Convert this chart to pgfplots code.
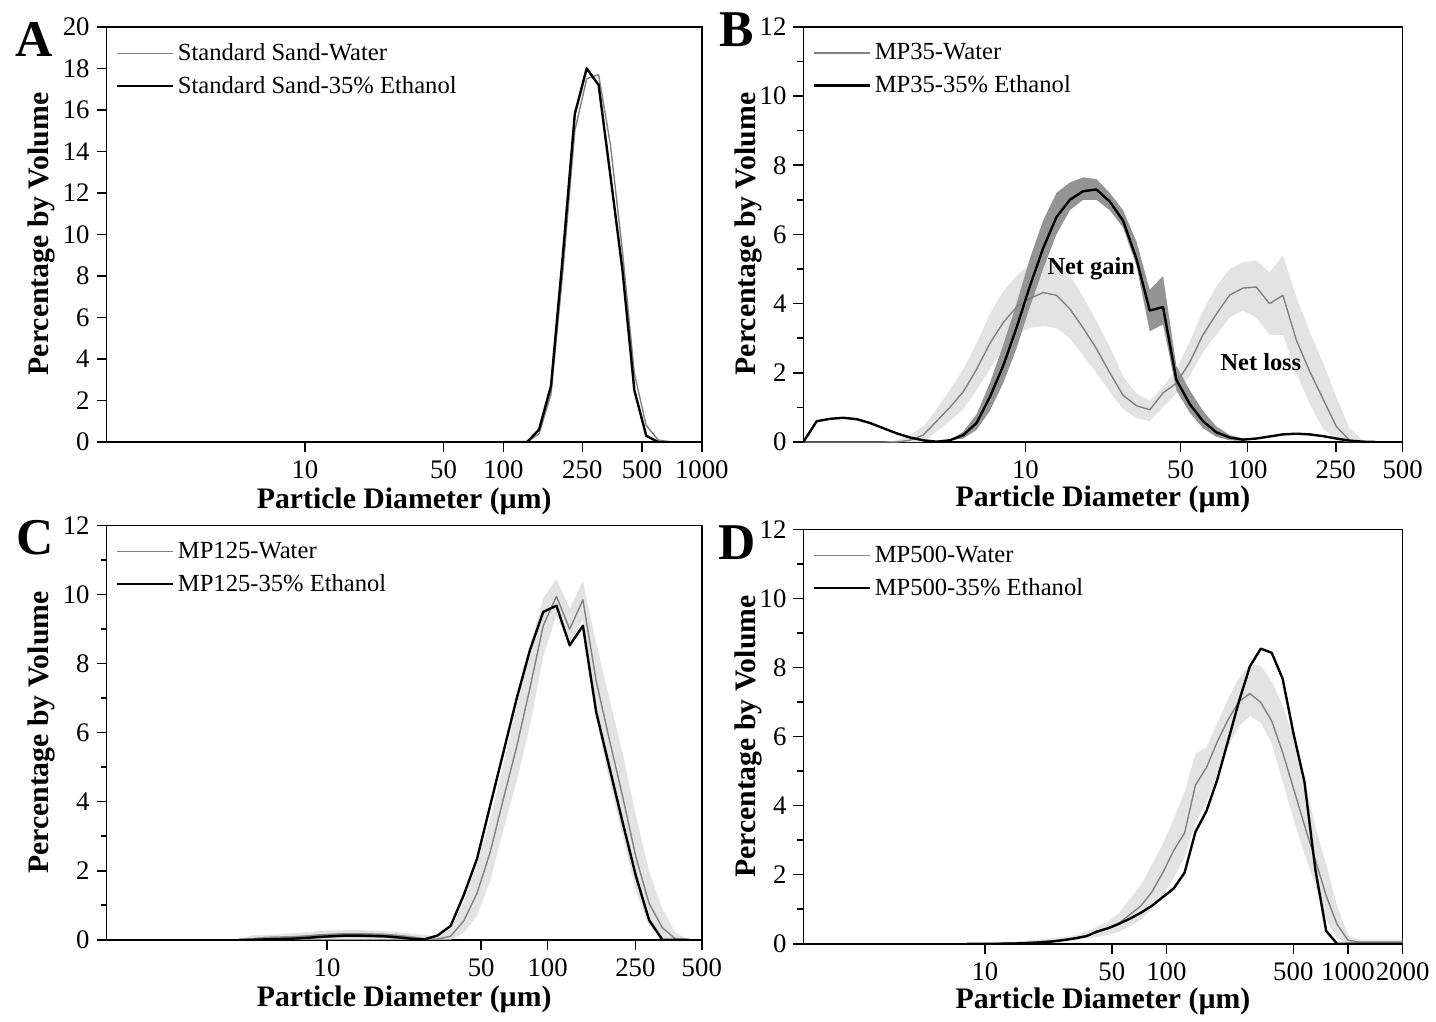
\documentclass[border=0pt]{standalone}
\usepackage{fontspec}
\setmainfont{Liberation Serif}
\usepackage{pgfplots}
\pgfplotsset{compat=1.18}
\usepgfplotslibrary{fillbetween}
\usepackage{pgfplotstable}

\definecolor{lineg}{gray}{0.5}
\definecolor{bandl}{gray}{0.89}
\definecolor{bandd}{gray}{0.58}

\pgfplotstableread{
x g b
100 0 0
114.8 0 0
131.8 0 0
151.4 0.4 0.6
173.8 2.3 2.7
199.5 8.2 9.0
229.1 15.0 15.8
263.0 17.5 18.0
302.0 17.7 17.2
346.7 14.3 12.8
398.1 9.2 8.3
457.1 3.3 2.5
524.8 0.8 0.3
602.6 0.1 0
691.8 0 0
}\tblA

\pgfplotstableread{
x g glo ghi b blo bhi
1.000 0 0 0 0 0 0
1.148 0 0 0 0.6 0.6 0.6
1.318 0 0 0 0.67 0.67 0.67
1.514 0 0 0 0.7 0.7 0.7
1.738 0 0 0 0.66 0.66 0.66
1.995 0 0 0 0.55 0.55 0.55
2.291 0 0 0 0.4 0.4 0.4
2.630 0 0 0.05 0.25 0.25 0.25
3.020 0.05 0 0.2 0.13 0.13 0.13
3.467 0.2 0 0.45 0.05 0.05 0.05
3.981 0.6 0.3 0.95 0.01 0.01 0.01
4.571 1.0 0.6 1.5 0.05 0.05 0.05
5.248 1.45 0.95 2.1 0.2 0.1 0.3
6.026 2.1 1.5 2.85 0.55 0.35 0.8
6.918 2.85 2.1 3.7 1.3 0.9 1.7
7.943 3.45 2.7 4.35 2.2 1.7 2.8
9.120 3.9 3.1 4.8 3.3 2.7 4.0
10.47 4.15 3.3 5.15 4.5 3.9 5.3
12.02 4.32 3.35 5.3 5.6 5.0 6.4
13.80 4.24 3.3 5.2 6.5 6.0 7.2
15.85 3.85 3.0 4.8 7.0 6.7 7.5
18.20 3.3 2.5 4.2 7.25 7.0 7.65
20.89 2.7 2.0 3.5 7.3 7.0 7.6
23.99 2.0 1.45 2.75 6.95 6.7 7.2
27.54 1.35 0.95 1.9 6.4 6.2 6.7
31.62 1.05 0.7 1.4 5.3 5.1 5.8
36.31 0.93 0.6 1.2 3.8 3.2 4.4
41.69 1.42 1.0 1.6 3.9 3.4 4.8
47.86 1.7 1.4 2.1 1.8 1.5 2.2
54.95 2.3 1.9 2.9 1.1 0.85 1.5
63.10 3.1 2.6 3.8 0.6 0.4 0.9
72.44 3.7 3.1 4.5 0.28 0.15 0.45
83.18 4.25 3.6 5.0 0.13 0.05 0.2
95.50 4.45 3.8 5.2 0.07 0.03 0.1
109.6 4.48 3.6 5.25 0.1 0.1 0.1
125.9 4.0 3.1 4.9 0.16 0.16 0.16
144.5 4.24 3.1 5.4 0.22 0.22 0.22
166.0 2.95 2.0 4.2 0.24 0.24 0.24
190.5 2.05 1.1 3.2 0.22 0.22 0.22
218.8 1.25 0.4 2.3 0.17 0.17 0.17
251.2 0.45 0.05 1.3 0.1 0.1 0.1
288.4 0.05 0 0.4 0.04 0.04 0.04
331.1 0 0 0.05 0.01 0.01 0.01
380.2 0 0 0 0 0 0
}\tblB

\pgfplotstableread{
x g glo ghi b blo bhi
3.981 0 0 0.02 0 0 0
4.571 0.01 0 0.13 0 0 0.05
5.248 0.02 0 0.14 0.01 0 0.09
6.026 0.04 0 0.16 0.02 0 0.1
6.918 0.07 0 0.19 0.03 0 0.11
7.943 0.1 0 0.22 0.05 0.01 0.13
9.120 0.13 0 0.25 0.08 0.04 0.16
10.47 0.15 0 0.27 0.1 0.06 0.18
12.02 0.16 0 0.28 0.12 0.08 0.2
13.80 0.16 0 0.28 0.12 0.08 0.2
15.85 0.15 0 0.27 0.11 0.07 0.19
18.20 0.13 0 0.25 0.1 0.06 0.18
20.89 0.1 0 0.22 0.07 0.03 0.15
23.99 0.06 0 0.18 0.03 0 0.11
27.54 0.02 0 0.14 0.01 0 0.05
31.62 0.02 0 0.1 0.12 0.12 0.12
36.31 0.1 0 0.3 0.4 0.4 0.4
41.69 0.55 0.2 1.1 1.3 1.3 1.3
47.86 1.35 0.7 2.2 2.35 2.35 2.35
54.95 2.55 1.7 3.5 3.9 3.9 3.9
63.10 4.1 3.2 5.1 5.45 5.45 5.45
72.44 5.6 4.6 6.8 7.0 7.0 7.0
83.18 7.3 6.2 8.5 8.4 8.4 8.4
95.50 9.1 8.2 9.9 9.5 9.5 9.5
109.6 9.95 9.4 10.45 9.68 9.68 9.68
125.9 9.0 8.5 9.6 8.53 8.53 8.53
144.5 9.85 9.3 10.4 9.1 9.1 9.1
166.0 7.5 6.4 8.6 6.6 6.6 6.6
190.5 5.8 4.6 7.0 5.0 5.0 5.0
218.8 4.15 3.0 5.4 3.4 3.4 3.4
251.2 2.4 1.4 3.6 1.85 1.85 1.85
288.4 1.05 0.4 2.0 0.57 0.57 0.57
331.1 0.35 0.05 0.9 0 0 0
380.2 0.02 0 0.2 0 0 0
436.5 0 0 0 0 0 0
}\tblC

\pgfplotstableread{
x g glo ghi b
7.943 0 0 0 0
9.120 0 0 0.02 0
10.47 0 0 0.03 0
12.02 0.01 0 0.04 0
13.80 0.02 0 0.05 0.005
15.85 0.03 0 0.07 0.01
18.20 0.05 0.01 0.1 0.02
20.89 0.07 0.02 0.13 0.04
23.99 0.09 0.03 0.17 0.07
27.54 0.11 0.05 0.2 0.11
31.62 0.16 0.1 0.25 0.16
36.31 0.24 0.15 0.35 0.22
41.69 0.33 0.2 0.5 0.36
47.86 0.45 0.25 0.65 0.45
54.95 0.6 0.35 0.9 0.58
63.10 0.85 0.5 1.3 0.73
72.44 1.1 0.7 1.7 0.9
83.18 1.5 1.0 2.3 1.1
95.50 2.06 1.4 2.9 1.35
109.6 2.7 1.9 3.6 1.6
125.9 3.21 2.5 4.4 2.06
144.5 4.6 3.5 5.5 3.24
166.0 5.1 4.1 5.7 3.84
190.5 5.85 4.9 6.4 4.75
218.8 6.5 5.7 7.1 5.89
251.2 7.02 6.3 7.7 7.03
288.4 7.25 6.6 8.1 8.04
331.1 6.99 6.4 8.05 8.55
380.2 6.45 5.8 7.6 8.43
436.5 5.55 4.7 6.9 7.68
501.2 4.5 3.6 6.0 6.09
575.4 3.44 2.6 4.8 4.7
660.7 2.43 1.7 3.4 2.16
758.6 1.39 0.7 2.3 0.37
871.0 0.56 0.15 1.1 0
1000 0.1 0 0.25 0
1148 0.05 0 0.12 0
1318 0.05 0 0.12 0
1514 0.05 0 0.12 0
1738 0.05 0 0.12 0
1995 0.05 0 0.12 0
}\tblD

\tikzset{
  gline/.style={lineg, line width=0.7bp, line join=round},
  bline/.style={black, line width=1.2bp, line join=round},
}

\begin{document}
\begin{tikzpicture}

% ---------- A ----------
\begin{axis}[scale only axis, anchor=south west, at={(53.5bp,-222bp)},
  width=299bp, height=208.5bp,
  xmode=log, xmin=1, xmax=1000, ymin=0, ymax=20,
  ytick={0,2,...,20},
  xtick={10,50,100,250,500,1000}, xticklabels={10,50,100,250,500,1000},
  axis line style={line width=0.8pt},
  tick style={line width=0.8pt, black},
  tick align=outside, tick pos=left,
  major tick length=5bp, minor tick length=3bp,
  ticklabel style={font=\fontsize{13.5}{13.5}\selectfont},
  xticklabel style={yshift=-1bp},
  yticklabel={\pgfmathprintnumber[assume math mode=true]{\tick}},
  legend style={draw=none, fill=none, font=\fontsize{12.4}{12.4}\selectfont,
    at={(0,1)}, anchor=north west, xshift=1.5bp, yshift=-4bp, row sep=2.5bp},
  legend cell align=left,
  legend image code/.code={\draw[#1] (0bp,0bp) -- (28bp,0bp);}]
\addplot[gline] table[x=x,y=g]{\tblA};
\addlegendentry{Standard Sand-Water}
\addplot[bline] table[x=x,y=b]{\tblA};
\addlegendentry{Standard Sand-35\% Ethanol}
\end{axis}

% ---------- B ----------
\begin{axis}[scale only axis, anchor=south west, at={(403.5bp,-222bp)},
  width=301bp, height=208.5bp,
  xmode=log, xmin=1, xmax=500, ymin=0, ymax=12,
  ytick={0,2,...,12}, minor y tick num=1,
  xtick={10,50,100,250,500}, xticklabels={10,50,100,250,500},
  axis line style={line width=0.8pt},
  tick style={line width=0.8pt, black},
  tick align=outside, tick pos=left,
  major tick length=5bp, minor tick length=3bp,
  ticklabel style={font=\fontsize{13.5}{13.5}\selectfont},
  xticklabel style={yshift=-1bp},
  yticklabel={\pgfmathprintnumber[assume math mode=true]{\tick}},
  legend style={draw=none, fill=none, font=\fontsize{12.4}{12.4}\selectfont,
    at={(0,1)}, anchor=north west, xshift=1.5bp, yshift=-4bp, row sep=2.5bp},
  legend cell align=left,
  legend image code/.code={\draw[#1] (0bp,0bp) -- (28bp,0bp);}]
\addplot[draw=none, name path=Bgh, forget plot] table[x=x,y=ghi]{\tblB};
\addplot[draw=none, name path=Bgl, forget plot] table[x=x,y=glo]{\tblB};
\addplot[bandl, draw=none, forget plot] fill between[of=Bgh and Bgl];
\addplot[draw=none, name path=Bbh, forget plot] table[x=x,y=bhi]{\tblB};
\addplot[draw=none, name path=Bbl, forget plot] table[x=x,y=blo]{\tblB};
\addplot[bandd, draw=none, forget plot] fill between[of=Bbh and Bbl];
\addplot[gline] table[x=x,y=g]{\tblB};
\addlegendentry{MP35-Water}
\addplot[bline] table[x=x,y=b]{\tblB};
\addlegendentry{MP35-35\% Ethanol}
\node[font=\fontsize{12.3}{12.3}\selectfont\bfseries] at (axis cs:19.8,5.0) {Net gain};
\node[font=\fontsize{12.3}{12.3}\selectfont\bfseries] at (axis cs:115,2.3) {Net loss};
\end{axis}

% ---------- C ----------
\begin{axis}[scale only axis, anchor=south west, at={(53.5bp,-472bp)},
  width=299bp, height=208bp,
  xmode=log, xmin=1, xmax=500, ymin=0, ymax=12,
  ytick={0,2,...,12}, minor y tick num=1,
  xtick={10,50,100,250,500}, xticklabels={10,50,100,250,500},
  axis line style={line width=0.8pt},
  tick style={line width=0.8pt, black},
  tick align=outside, tick pos=left,
  major tick length=5bp, minor tick length=3bp,
  ticklabel style={font=\fontsize{13.5}{13.5}\selectfont},
  xticklabel style={yshift=-1bp},
  yticklabel={\pgfmathprintnumber[assume math mode=true]{\tick}},
  legend style={draw=none, fill=none, font=\fontsize{12.4}{12.4}\selectfont,
    at={(0,1)}, anchor=north west, xshift=1.5bp, yshift=-4bp, row sep=2.5bp},
  legend cell align=left,
  legend image code/.code={\draw[#1] (0bp,0bp) -- (28bp,0bp);}]
\addplot[draw=none, name path=Cgh, forget plot] table[x=x,y=ghi]{\tblC};
\addplot[draw=none, name path=Cgl, forget plot] table[x=x,y=glo]{\tblC};
\addplot[bandl, draw=none, forget plot] fill between[of=Cgh and Cgl];
\addplot[draw=none, name path=Cbh, forget plot] table[x=x,y=bhi]{\tblC};
\addplot[draw=none, name path=Cbl, forget plot] table[x=x,y=blo]{\tblC};
\addplot[bandd, draw=none, forget plot] fill between[of=Cbh and Cbl];
\addplot[gline] table[x=x,y=g]{\tblC};
\addlegendentry{MP125-Water}
\addplot[bline] table[x=x,y=b]{\tblC};
\addlegendentry{MP125-35\% Ethanol}
\end{axis}

% ---------- D ----------
\begin{axis}[scale only axis, anchor=south west, at={(403.5bp,-474bp)},
  width=301bp, height=208bp,
  xmode=log, xmin=1, xmax=2000, ymin=0, ymax=12,
  ytick={0,2,...,12}, minor y tick num=1,
  xtick={10,50,100,500,1000,2000}, xticklabels={10,50,100,500,1000,2000},
  axis line style={line width=0.8pt},
  tick style={line width=0.8pt, black},
  tick align=outside, tick pos=left,
  major tick length=5bp, minor tick length=3bp,
  ticklabel style={font=\fontsize{13.5}{13.5}\selectfont},
  xticklabel style={yshift=-1bp},
  yticklabel={\pgfmathprintnumber[assume math mode=true]{\tick}},
  legend style={draw=none, fill=none, font=\fontsize{12.4}{12.4}\selectfont,
    at={(0,1)}, anchor=north west, xshift=1.5bp, yshift=-4bp, row sep=2.5bp},
  legend cell align=left,
  legend image code/.code={\draw[#1] (0bp,0bp) -- (28bp,0bp);}]
\addplot[draw=none, name path=Dgh, forget plot] table[x=x,y=ghi]{\tblD};
\addplot[draw=none, name path=Dgl, forget plot] table[x=x,y=glo]{\tblD};
\addplot[bandl, draw=none, forget plot] fill between[of=Dgh and Dgl];
\addplot[gline] table[x=x,y=g]{\tblD};
\addlegendentry{MP500-Water}
\addplot[bline] table[x=x,y=b]{\tblD};
\addlegendentry{MP500-35\% Ethanol}
\end{axis}

% axis titles
\begin{scope}[font=\fontsize{15}{15}\selectfont\bfseries]
\node[rotate=90] at (21bp,-117.5bp) {Percentage by Volume};
\node[rotate=90] at (376bp,-117.5bp) {Percentage by Volume};
\node[rotate=90] at (21bp,-368bp) {Percentage by Volume};
\node[rotate=90] at (376bp,-370bp) {Percentage by Volume};
\node at (203bp,-252bp) {Particle Diameter (µm)};
\node at (554bp,-251bp) {Particle Diameter (µm)};
\node at (203bp,-502bp) {Particle Diameter (µm)};
\node at (554bp,-503bp) {Particle Diameter (µm)};
\end{scope}

% panel letters
\begin{scope}[font=\fontsize{26}{26}\selectfont\bfseries]
\node at (17bp,-20bp) {A};
\node at (370bp,-15bp) {B};
\node at (17.5bp,-270bp) {C};
\node at (370bp,-272.5bp) {D};
\end{scope}
\path (0,0) rectangle (718bp,-510bp);
\end{tikzpicture}
\end{document}
